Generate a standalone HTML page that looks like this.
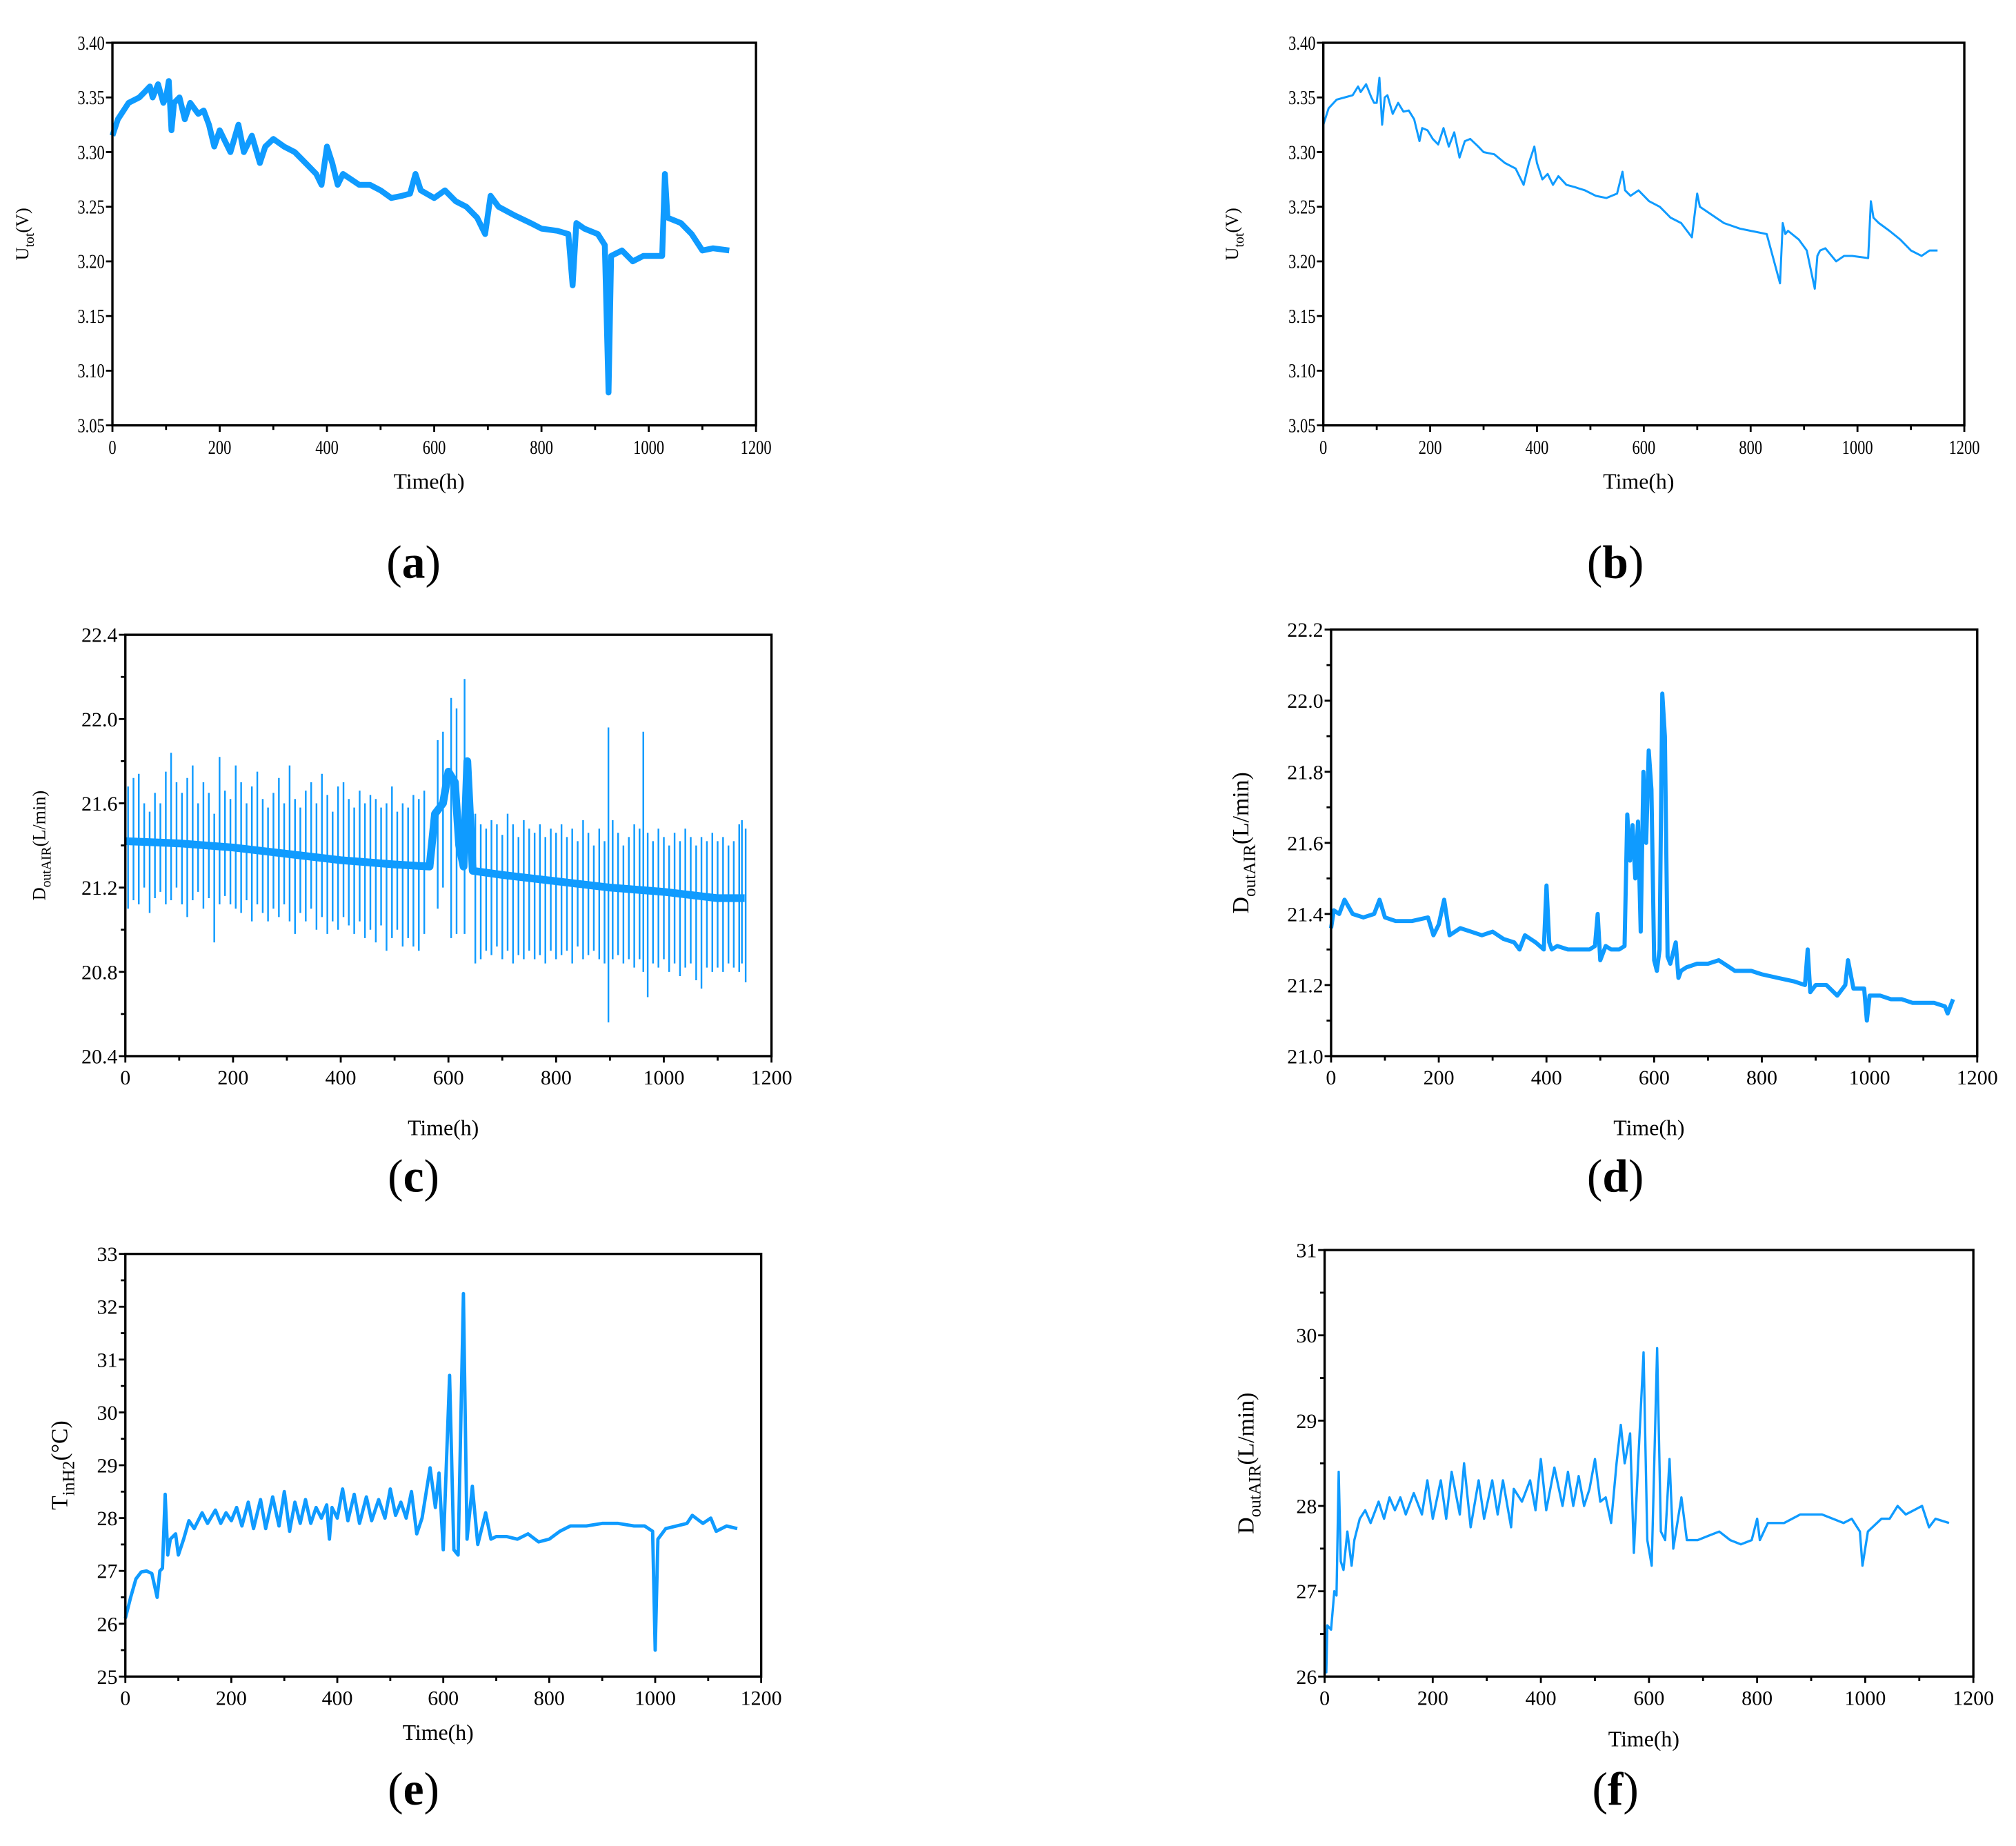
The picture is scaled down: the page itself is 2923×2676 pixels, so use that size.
<!DOCTYPE html>
<html><head><meta charset="utf-8"><style>
html,body{margin:0;padding:0;background:#fff}
svg{display:block}
text{font-family:"Liberation Serif",serif;fill:#000}
</style></head><body>
<svg id="fig" width="2923" height="2676" viewBox="0 0 1560 1428" xmlns="http://www.w3.org/2000/svg"></svg>
<script>
// ---------- data (time in hours, values in axis units) ----------
const aT=[0,10,30,50,60,70,75,85,95,100,105,110,115,125,135,145,160,170,180,190,200,210,220,235,245,260,275,285,300,320,340,360,380,390,400,410,420,430,445,460,480,500,520,540,555,565,575,600,620,640,660,680,695,705,720,750,780,800,830,850,858,865,880,905,918,925,930,950,970,990,1025,1030,1035,1060,1080,1100,1120,1150];
const aV=[3.315,3.33,3.345,3.35,3.355,3.36,3.35,3.362,3.345,3.35,3.365,3.32,3.345,3.35,3.33,3.345,3.335,3.338,3.325,3.305,3.32,3.31,3.3,3.325,3.3,3.315,3.29,3.305,3.312,3.305,3.3,3.29,3.28,3.27,3.305,3.29,3.27,3.28,3.275,3.27,3.27,3.265,3.258,3.26,3.262,3.28,3.265,3.258,3.265,3.255,3.25,3.24,3.225,3.26,3.25,3.242,3.235,3.23,3.228,3.225,3.178,3.235,3.23,3.225,3.215,3.08,3.205,3.21,3.2,3.205,3.205,3.28,3.24,3.235,3.225,3.21,3.212,3.21];
const bT=[0,10,25,40,55,65,70,80,90,95,100,105,110,115,120,130,140,150,160,170,180,185,195,205,215,225,235,245,255,265,275,290,300,320,340,360,375,385,395,400,410,420,430,440,455,470,490,510,530,550,560,565,575,590,610,630,650,670,690,700,705,720,750,780,800,830,855,860,865,870,890,905,920,925,930,940,960,975,990,1020,1025,1030,1040,1060,1080,1100,1120,1135,1150];
const bV=[3.325,3.34,3.348,3.35,3.352,3.36,3.355,3.362,3.35,3.345,3.345,3.368,3.325,3.35,3.352,3.335,3.345,3.337,3.338,3.33,3.31,3.322,3.32,3.312,3.307,3.322,3.305,3.318,3.295,3.31,3.312,3.305,3.3,3.298,3.29,3.285,3.27,3.29,3.305,3.29,3.275,3.28,3.27,3.278,3.27,3.268,3.265,3.26,3.258,3.262,3.282,3.265,3.26,3.265,3.255,3.25,3.24,3.235,3.222,3.262,3.25,3.245,3.235,3.23,3.228,3.225,3.18,3.235,3.225,3.228,3.22,3.21,3.175,3.205,3.21,3.212,3.2,3.205,3.205,3.203,3.255,3.24,3.235,3.228,3.22,3.21,3.205,3.21,3.21];
const cT=[0,100,200,300,400,500,565,575,590,600,612,620,628,635,645,700,800,900,1000,1100,1150];
const cV=[21.42,21.41,21.39,21.36,21.33,21.31,21.3,21.55,21.6,21.75,21.7,21.4,21.3,21.8,21.28,21.26,21.23,21.2,21.18,21.15,21.15];
const cSpikeT=[5,15,25,35,45,55,65,75,85,95,105,115,125,135,145,155,165,175,185,195,205,215,225,235,245,255,265,275,285,295,305,315,325,335,345,355,365,375,385,395,405,415,425,435,445,455,465,475,485,495,505,515,525,535,545,555,580,590,605,615,630,650,660,670,680,690,700,710,720,730,740,750,760,770,780,790,800,810,820,830,840,850,860,870,880,890,897,905,915,925,935,945,955,962,970,980,990,1000,1010,1020,1030,1040,1050,1060,1070,1080,1090,1100,1110,1120,1130,1140,1145,1152];
const cSpikeHi=[21.68,21.72,21.74,21.6,21.56,21.65,21.6,21.75,21.84,21.7,21.65,21.72,21.78,21.6,21.7,21.65,21.55,21.82,21.66,21.62,21.78,21.7,21.6,21.68,21.75,21.62,21.58,21.65,21.72,21.6,21.78,21.62,21.58,21.66,21.7,21.6,21.74,21.64,21.56,21.68,21.7,21.62,21.58,21.66,21.6,21.64,21.62,21.58,21.6,21.68,21.56,21.6,21.58,21.64,21.62,21.66,21.9,21.94,22.1,22.05,22.19,21.55,21.5,21.48,21.52,21.5,21.45,21.55,21.5,21.44,21.52,21.48,21.46,21.5,21.44,21.48,21.46,21.5,21.44,21.48,21.42,21.52,21.46,21.4,21.48,21.42,21.96,21.52,21.46,21.4,21.44,21.5,21.48,21.94,21.46,21.42,21.48,21.44,21.4,21.46,21.42,21.48,21.44,21.4,21.44,21.42,21.46,21.42,21.44,21.4,21.42,21.5,21.52,21.48];
const cSpikeLo=[21.1,21.14,21.12,21.2,21.08,21.15,21.18,21.12,21.14,21.2,21.12,21.06,21.14,21.18,21.1,21.15,20.94,21.12,21.16,21.12,21.1,21.08,21.14,21.04,21.12,21.08,21.04,21.1,21.06,21.12,21.04,20.98,21.08,21.04,21.1,21.0,21.06,20.98,21.04,21.0,21.06,21.02,20.98,21.04,20.96,21.0,20.94,21.02,20.9,20.96,21.0,20.92,20.96,20.92,20.9,20.98,21.1,21.2,20.96,20.98,20.98,20.84,20.86,20.9,20.88,20.92,20.86,20.9,20.84,20.88,20.86,20.9,20.86,20.88,20.84,20.9,20.86,20.88,20.9,20.84,20.92,20.86,20.88,20.9,20.86,20.84,20.56,20.86,20.88,20.84,20.86,20.82,20.86,20.8,20.68,20.84,20.82,20.86,20.8,20.84,20.78,20.82,20.84,20.76,20.72,20.82,20.8,20.82,20.8,20.84,20.82,20.8,20.84,20.75];
const dT=[0,5,15,25,40,60,80,90,100,120,150,180,190,200,210,220,240,260,280,300,320,340,350,360,380,395,400,405,410,420,440,460,480,490,495,500,510,520,535,545,550,555,560,565,570,575,580,585,590,595,600,605,610,615,620,625,630,640,645,650,660,680,700,720,750,780,800,830,860,880,885,890,900,920,940,955,960,970,990,995,1000,1020,1040,1060,1080,1100,1120,1140,1145,1155];
const dV=[21.36,21.41,21.4,21.44,21.4,21.39,21.4,21.44,21.39,21.38,21.38,21.39,21.34,21.37,21.44,21.34,21.36,21.35,21.34,21.35,21.33,21.32,21.3,21.34,21.32,21.3,21.48,21.32,21.3,21.31,21.3,21.3,21.3,21.31,21.4,21.27,21.31,21.3,21.3,21.31,21.68,21.55,21.65,21.5,21.66,21.35,21.8,21.6,21.86,21.75,21.27,21.24,21.3,22.02,21.9,21.28,21.26,21.32,21.22,21.24,21.25,21.26,21.26,21.27,21.24,21.24,21.23,21.22,21.21,21.2,21.3,21.18,21.2,21.2,21.17,21.2,21.27,21.19,21.19,21.1,21.17,21.17,21.16,21.16,21.15,21.15,21.15,21.14,21.12,21.16];
const eT=[0,10,20,30,40,50,60,65,70,75,
80,85,95,100,110,120,130,145,155,170,
180,190,200,210,220,232,242,255,265,278,
290,300,310,320,330,340,350,360,370,380,
385,390,400,410,420,432,442,455,465,478,
490,500,510,520,530,540,550,560,575,585,
592,600,612,620,628,638,645,655,665,680,
690,700,720,740,760,780,800,820,840,870,
900,930,960,980,995,1000,1005,1020,1040,1060,
1070,1090,1105,1115,1135,1155];
const eV=[26.1,26.5,26.85,26.98,27.0,26.95,26.5,27.0,27.05,28.45,
27.3,27.6,27.7,27.3,27.6,27.95,27.8,28.1,27.9,28.15,
27.9,28.1,27.95,28.2,27.85,28.3,27.8,28.35,27.8,28.4,
27.85,28.5,27.75,28.3,27.9,28.35,27.9,28.2,28.0,28.25,
27.6,28.2,28.0,28.55,27.95,28.45,27.9,28.4,27.95,28.35,
28.0,28.55,28.05,28.3,28.0,28.5,27.7,28.0,28.95,28.2,
28.85,27.4,30.7,27.4,27.3,32.25,27.6,28.6,27.5,28.1,
27.6,27.65,27.65,27.6,27.7,27.55,27.6,27.75,27.85,27.85,
27.9,27.9,27.85,27.85,27.75,25.5,27.6,27.8,27.85,27.9,
28.05,27.9,28.0,27.75,27.85,27.8];
const fT=[0,3,5,12,18,22,26,30,35,42,
50,55,65,75,85,100,110,120,130,140,
150,165,180,190,200,215,225,235,250,258,
270,285,295,310,320,330,345,350,365,380,
390,400,410,425,440,450,460,470,480,490,
500,510,520,530,540,548,555,565,572,580,
590,597,605,615,622,630,638,645,660,670,
690,710,730,750,770,790,800,805,820,850,
880,920,940,960,975,990,995,1005,1030,1045,
1060,1075,1090,1105,1118,1130,1155];
const fV=[26.6,26.05,26.6,26.55,27.0,26.95,28.4,27.35,27.25,27.7,
27.3,27.6,27.85,27.95,27.8,28.05,27.85,28.1,27.95,28.1,
27.9,28.15,27.9,28.3,27.85,28.3,27.85,28.4,27.9,28.5,
27.75,28.3,27.85,28.3,27.9,28.3,27.75,28.2,28.05,28.3,
27.95,28.55,27.95,28.45,28.0,28.4,28.0,28.35,28.0,28.2,
28.55,28.05,28.1,27.8,28.5,28.95,28.5,28.85,27.45,28.5,
29.8,27.6,27.3,29.85,27.7,27.6,28.55,27.5,28.1,27.6,
27.6,27.65,27.7,27.6,27.55,27.6,27.85,27.6,27.8,27.8,
27.9,27.9,27.85,27.8,27.85,27.7,27.3,27.7,27.85,27.85,
28.0,27.9,27.95,28.0,27.75,27.85,27.8];
// ---------- panel definitions ----------
const panels=[
 {id:'a',x0:87,x1:585,y0:329,y1:33,ymin:3.05,ymax:3.40,step:0.05,dec:2,minor:0,fs:15,cond:0.8,ylab:['U','tot','(V)'],ylx:22,lfs:14,t:aT,v:aV,sw:4.5,xlabY:378,capY:447,capX:320},
 {id:'b',x0:1024,x1:1520,y0:329,y1:33,ymin:3.05,ymax:3.40,step:0.05,dec:2,minor:0,fs:15,cond:0.8,ylab:['U','tot','(V)'],ylx:958,lfs:14,t:bT,v:bV,sw:1.6,xlabY:378,capY:447,capX:1250},
 {id:'c',x0:97,x1:597,y0:817,y1:491,ymin:20.4,ymax:22.4,step:0.4,dec:1,minor:0.2,fs:16,cond:1,ylab:['D','outAIR','(L/min)'],ylx:35,lfs:14,t:cT,v:cV,sw:6,xlabY:878,capY:922,capX:320,spikes:true},
 {id:'d',x0:1030,x1:1530,y0:817,y1:487,ymin:21.0,ymax:22.2,step:0.2,dec:1,minor:0.1,fs:16,cond:1,ylab:['D','outAIR','(L/min)'],ylx:966,lfs:18,t:dT,v:dV,sw:3.2,xlabY:878,capY:922,capX:1250},
 {id:'e',x0:97,x1:589,y0:1297,y1:970,ymin:25,ymax:33,step:1,dec:0,minor:0.5,fs:16,cond:1,ylab:['T','inH2','(°C)'],ylx:52,lfs:18,t:eT,v:eV,sw:2.6,xlabY:1346,capY:1396,capX:320},
 {id:'f',x0:1025,x1:1527,y0:1297,y1:967,ymin:26,ymax:31,step:1,dec:0,minor:0.5,fs:16,cond:1,ylab:['D','outAIR','(L/min)'],ylx:970,lfs:18,t:fT,v:fV,sw:1.8,xlabY:1351,capY:1396,capX:1250}
];
const xTicks=[0,200,400,600,800,1000,1200];
const NS='http://www.w3.org/2000/svg';
const svg=document.getElementById('fig');
function mk(tag,attrs,parent){const e=document.createElementNS(NS,tag);for(const k in attrs)e.setAttribute(k,attrs[k]);(parent||svg).appendChild(e);return e;}
const BLUE='#0f9bff';
panels.forEach(p=>{
 const g=mk('g',{});
 
 
 const X=t=>p.x0+(t/1200)*(p.x1-p.x0);
 const Y=v=>p.y0+(v-p.ymin)/(p.ymax-p.ymin)*(p.y1-p.y0);
 if(p.spikes){
  let d='';
  cSpikeT.forEach((t,i)=>{d+='M'+X(t).toFixed(1)+' '+Y(cSpikeHi[i]).toFixed(1)+'L'+X(t).toFixed(1)+' '+Y(cSpikeLo[i]).toFixed(1);});
  const sp=mk('path',{d:d,stroke:BLUE,'stroke-width':1.3,fill:'none'},g);
  
  
 }
 let d='';
 p.t.forEach((t,i)=>{d+=(i?'L':'M')+X(t).toFixed(1)+' '+Y(p.v[i]).toFixed(1);});
 const ln=mk('path',{d:d,stroke:BLUE,'stroke-width':p.sw,fill:'none','stroke-linejoin':'round'},g);
 
 
 const fr=mk('rect',{x:p.x0,y:p.y1,width:p.x1-p.x0,height:p.y0-p.y1,fill:'none',stroke:'#000','stroke-width':1.8},g);
 
 
 for(let t=0;t<=1200;t+=100){
  const major=t%200===0;
  mk('line',{x1:X(t),x2:X(t),y1:p.y0,y2:p.y0+(major?5:3.5),stroke:'#000','stroke-width':1.5},g);
 }
 xTicks.forEach(t=>{
  const tx=mk('text',{x:X(t),y:p.y0+22,'font-size':p.fs,'text-anchor':'middle',transform:`translate(${X(t)},0) scale(${p.cond},1) translate(${-X(t)},0)`},g);
  tx.textContent=t;
  
  
 });
 const n=Math.round((p.ymax-p.ymin)/p.step);
 for(let i=0;i<=n;i++){
  const v=p.ymin+i*p.step;
  mk('line',{x1:p.x0-5,x2:p.x0,y1:Y(v),y2:Y(v),stroke:'#000','stroke-width':1.5},g);
  const tx=mk('text',{x:p.x0-6,y:Y(v)+p.fs*0.35,'font-size':p.fs,'text-anchor':'end',transform:`translate(${p.x0-6},0) scale(${p.cond},1) translate(${-(p.x0-6)},0)`},g);
  tx.textContent=v.toFixed(p.dec);
  
  
 }
 if(p.minor){
  const m=Math.round((p.ymax-p.ymin)/p.minor);
  for(let i=1;i<m;i+=2){const v=p.ymin+i*p.minor;mk('line',{x1:p.x0-3.5,x2:p.x0,y1:Y(v),y2:Y(v),stroke:'#000','stroke-width':1.5},g);}
 }
 const xl=mk('text',{x:(p.x0+p.x1)/2-4,y:p.xlabY,'font-size':17,'text-anchor':'middle'},g);
 xl.textContent='Time(h)';
 
 
 const cy=(p.y0+p.y1)/2;
 const yl=mk('text',{x:p.ylx,y:cy,'font-size':p.lfs,'text-anchor':'middle',transform:`rotate(-90 ${p.ylx} ${cy})`},g);
 
 
 const s1=mk('tspan',{},yl);s1.textContent=p.ylab[0];
 const s2=mk('tspan',{dy:p.lfs*0.3,'font-size':p.lfs*0.75},yl);s2.textContent=p.ylab[1];
 const s3=mk('tspan',{dy:-p.lfs*0.3},yl);s3.textContent=p.ylab[2];
 const cap=mk('text',{x:p.capX,y:p.capY,'font-size':36,'text-anchor':'middle'},g);
 
 
 const c1=mk('tspan',{},cap);c1.textContent='(';
 const c2=mk('tspan',{'font-weight':'bold'},cap);c2.textContent=p.id;
 const c3=mk('tspan',{},cap);c3.textContent=')';
});
</script>
</body></html>
